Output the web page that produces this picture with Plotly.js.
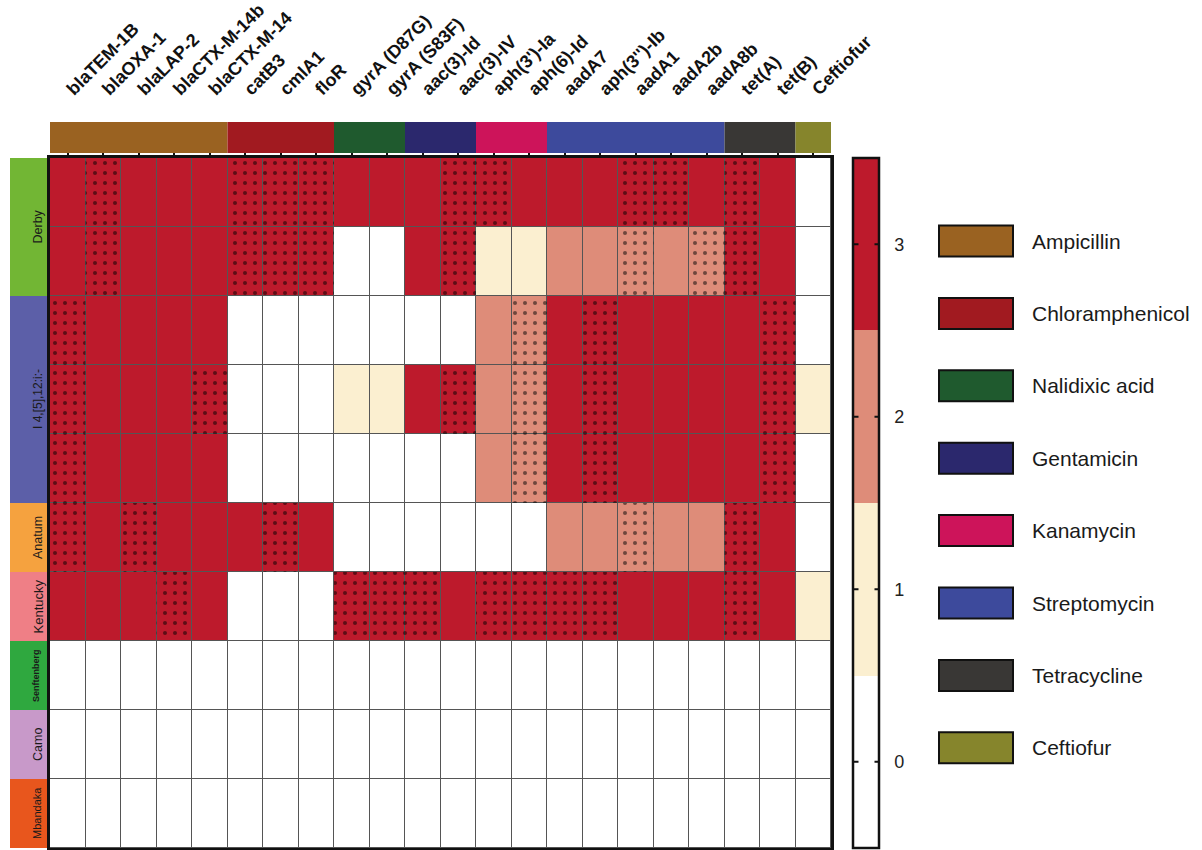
<!DOCTYPE html>
<html><head><meta charset="utf-8">
<script src="https://cdn.plot.ly/plotly-3.0.1.min.js"></script>
<style>body{margin:0;background:#fff}#chart{width:1202px;height:850px}</style>
</head><body><div id="chart"></div>
<script>
// ---------- DATA ----------
const genes = ['blaTEM-1B','blaOXA-1','blaLAP-2','blaCTX-M-14b','blaCTX-M-14','catB3','cmlA1','floR',
  'gyrA (D87G)','gyrA (S83F)','aac(3)-Id','aac(3)-IV',"aph(3')-Ia",'aph(6)-Id','aadA7',"aph(3'')-Ib",
  'aadA1','aadA2b','aadA8b','tet(A)','tet(B)','Ceftiofur'];
const drugGroups = ['Ampicillin','Chloramphenicol','Nalidixic acid','Gentamicin','Kanamycin','Streptomycin','Tetracycline','Ceftiofur'];
const drugGroupSizes = [5,3,2,2,2,5,2,1];
const drugColors = ['#9a6221','#a11a20','#1f5a2e','#2b286d','#cd145a','#3d4a9c','#393735','#86852c'];

const serotypes = ['Derby','I 4,[5],12:i:-','Anatum','Kentucky','Senftenberg','Camo','Mbandaka'];
const serotypeRows = [2,3,1,1,1,1,1];
const serotypeColors = ['#72b634','#5c5fa8','#f5a23f','#ef7f86','#2fa83f','#c899c9','#e8561d'];
const serotypeFontSize = [12.5,12,12.5,13,9,12.5,11];
const serotypeBold = [false,false,false,false,true,false,false];

// values per isolate row (0..3)
const rowDerby1   = [3,3,3,3,3,3,3,3,3,3,3,3,3,3,3,3,3,3,3,3,3,0];
const rowDerby2   = [3,3,3,3,3,3,3,3,0,0,3,3,1,1,2,2,2,2,2,3,3,0];
const rowI4a      = [3,3,3,3,3,0,0,0,0,0,0,0,2,2,3,3,3,3,3,3,3,0];
const rowI4b      = [3,3,3,3,3,0,0,0,1,1,3,3,2,2,3,3,3,3,3,3,3,1];
const rowI4c      = [3,3,3,3,3,0,0,0,0,0,0,0,2,2,3,3,3,3,3,3,3,0];
const rowAnatum   = [3,3,3,3,3,3,3,3,0,0,0,0,0,0,2,2,2,2,2,3,3,0];
const rowKentucky = [3,3,3,3,3,0,0,0,3,3,3,3,3,3,3,3,3,3,3,3,3,1];
const rowSenft    = [0,0,0,0,0,0,0,0,0,0,0,0,0,0,0,0,0,0,0,0,0,0];
const rowCamo     = [0,0,0,0,0,0,0,0,0,0,0,0,0,0,0,0,0,0,0,0,0,0];
const rowMbandaka = [0,0,0,0,0,0,0,0,0,0,0,0,0,0,0,0,0,0,0,0,0,0];

// dotted (patterned) cells: column indices per row
const dotDerby1   = [1,5,6,7,11,12,16,17,19];
const dotDerby2   = [1,5,6,7,11,16,18,19];
const dotI4a      = [0,13,15,20];
const dotI4b      = [0,4,11,13,15,20];
const dotI4c      = [0,13,15,20];
const dotAnatum   = [0,2,6,16,19];
const dotKentucky = [3,8,9,10,12,13,14,15,19];
const dotSenft = [], dotCamo = [], dotMbandaka = [];

const levelTicks = [0,1,2,3];
const levelColors = ['#ffffff','#fbefd0','#de8c79','#bd1a2c'];

// ---------- BUILD ----------
const z = [rowDerby1,rowDerby2,rowI4a,rowI4b,rowI4c,rowAnatum,rowKentucky,rowSenft,rowCamo,rowMbandaka];
const dots = [dotDerby1,dotDerby2,dotI4a,dotI4b,dotI4c,dotAnatum,dotKentucky,dotSenft,dotCamo,dotMbandaka];
const nCol = genes.length, nRow = z.length;
const colIdx = genes.map((_,i)=>i);
const rowIdx = z.map((_,i)=>i);
const zMin = -0.5, zMax = 3.5;

const cs = [];
levelColors.forEach((c,i)=>{ cs.push([i/4,c]); cs.push([(i+1)/4,c]); });

const FONT = 'Arial, Liberation Sans, sans-serif';
const heat = {
  type:'heatmap', x:colIdx, y:rowIdx, z:z, zmin:zMin, zmax:zMax, colorscale:cs,
  xgap:1, ygap:1, hoverinfo:'skip',
  colorbar:{x:1.028, xanchor:'left', y:0.5, yanchor:'middle', len:1, lenmode:'fraction',
    thickness:26, xpad:0, ypad:0, outlinewidth:2.5, outlinecolor:'#111',
    tickvals:levelTicks, ticktext:levelTicks.map(String), ticks:'outside', ticklen:11, tickwidth:1, tickcolor:'rgba(0,0,0,0)',
    tickfont:{family:FONT, size:18, color:'#222'}}
};

const dx=[], dbase=[], dy=[];
dots.forEach((cols,r)=>cols.forEach(c=>{ dx.push(c); dbase.push(r-0.5); dy.push(1); }));
const dotted = {
  type:'bar', x:dx, y:dy, base:dbase, width:1, hoverinfo:'skip', showlegend:false,
  marker:{color:'rgba(0,0,0,0)', line:{width:0},
    pattern:{shape:'.', fgcolor:'#000', bgcolor:'rgba(0,0,0,0)', fillmode:'overlay', size:10, solidity:0.13}}
};

// pixel helpers
const L=50, T=158, W=781, H=690;
const px2x = p => (p-L)/W;
const px2y = p => 1-(p-T)/H;

const shapes=[], annotations=[];
// drug group bar above plot
let start=0;
drugGroupSizes.forEach((n,g)=>{
  shapes.push({type:'rect', xref:'x', yref:'paper', x0:start-0.5, x1:start+n-0.5, y0:px2y(153), y1:px2y(122),
    fillcolor:drugColors[g], line:{width:0}, layer:'above'});
  start+=n;
});
// serotype band at left
start=0;
serotypes.forEach((s,g)=>{
  const n=serotypeRows[g];
  shapes.push({type:'rect', xref:'paper', yref:'y', x0:px2x(10), x1:px2x(47), y0:start-0.5, y1:start+n-0.5,
    fillcolor:serotypeColors[g], line:{width:0}});
  annotations.push({xref:'paper', yref:'y', x:px2x(28.5), y:start+(n-1)/2, text:serotypeBold[g]?'<b>'+s+'</b>':s,
    textangle:-90, showarrow:false, font:{family:FONT, size:serotypeFontSize[g], color:'#1a1a1a'}});
  start+=n;
});
// colorbar tick marks, inside on both edges (annotation arrows sit above the colorbar)
levelTicks.forEach(v=>{
  const yy = (v-zMin)/(zMax-zMin);
  annotations.push({xref:'paper', yref:'paper', x:px2x(854), y:yy, text:'', showarrow:true, arrowhead:0,
    ax:6, ay:0, axref:'pixel', ayref:'pixel', arrowwidth:2, arrowcolor:'#111', standoff:0, startstandoff:0});
  annotations.push({xref:'paper', yref:'paper', x:px2x(879), y:yy, text:'', showarrow:true, arrowhead:0,
    ax:-6, ay:0, axref:'pixel', ayref:'pixel', arrowwidth:2, arrowcolor:'#111', standoff:0, startstandoff:0});
});
// legend of drug groups
drugGroups.forEach((d,g)=>{
  const cy = 241 + g*72.4;
  shapes.push({type:'rect', xref:'paper', yref:'paper', x0:px2x(939), x1:px2x(1013), y0:px2y(cy+15.5), y1:px2y(cy-15.5),
    fillcolor:drugColors[g], line:{color:'#111', width:2}});
  annotations.push({xref:'paper', yref:'paper', x:px2x(1030), y:px2y(cy), xanchor:'left', yanchor:'middle', text:d,
    showarrow:false, font:{family:FONT, size:21, color:'#1a1a1a'}});
});

const layout = {
  width:1202, height:850, margin:{l:L, r:1202-L-W, t:T, b:850-T-H},
  paper_bgcolor:'#fff', plot_bgcolor:'#555', barmode:'overlay', showlegend:false,
  xaxis:{side:'top', range:[-0.5,nCol-0.5], tickvals:colIdx, ticktext:genes, tickangle:-45,
    ticks:'outside', ticklen:5, tickwidth:2, tickcolor:'#111', ticklabelstandoff:44,
    tickfont:{family:FONT, size:18, color:'#111', weight:'bold'},
    showline:true, linewidth:3, linecolor:'#111', mirror:true, showgrid:false, zeroline:false, fixedrange:true},
  yaxis:{range:[nRow-0.5,-0.5], showticklabels:false, ticks:'', showline:true, linewidth:3, linecolor:'#111',
    mirror:true, showgrid:false, zeroline:false, fixedrange:true},
  shapes:shapes, annotations:annotations
};
Plotly.newPlot('chart',[heat,dotted],layout,{displayModeBar:false, staticPlot:true});
</script></body></html>
